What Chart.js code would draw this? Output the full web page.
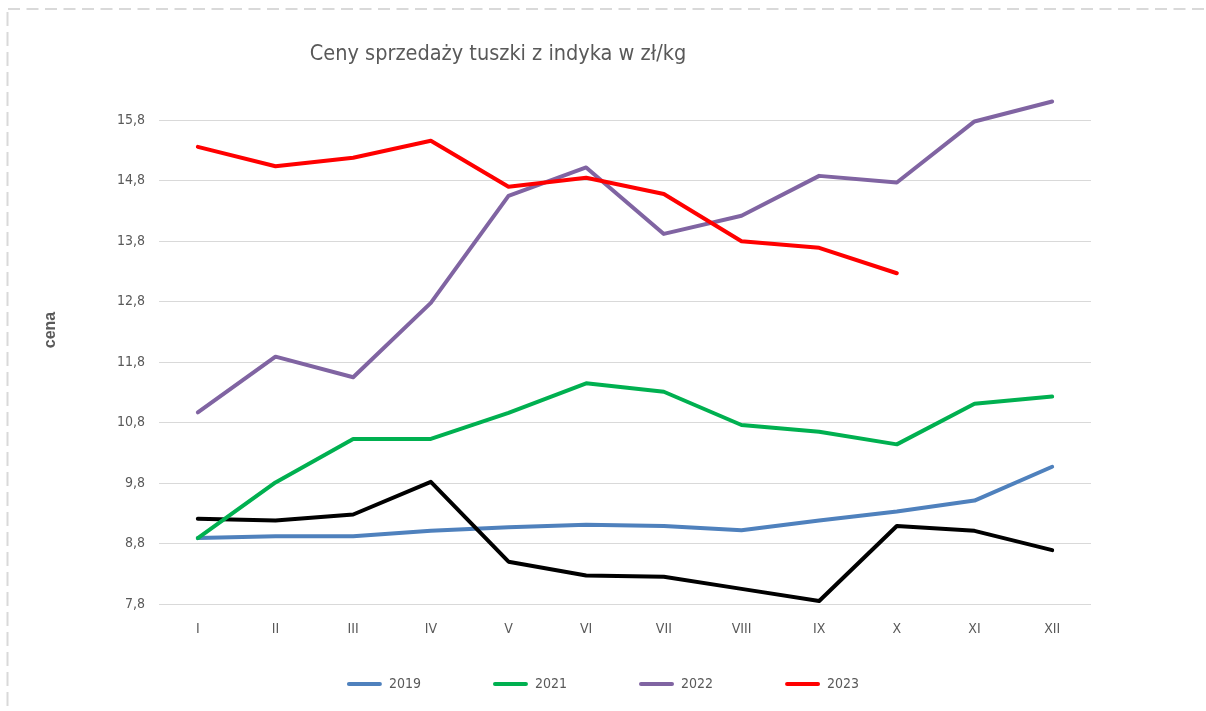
<!DOCTYPE html>
<html lang="pl">
<head>
<meta charset="utf-8">
<title>Ceny sprzedaży tuszki z indyka w zł/kg</title>
<script src="https://cdn.jsdelivr.net/npm/chart.js@4.4.1/dist/chart.umd.min.js"></script>
<style>
    html, body { margin: 0; padding: 0; background: #ffffff; }
    #kontener { position: relative; width: 1206px; height: 711px; }
</style>
</head>
<body>
<div id="kontener"><canvas id="wykresCen"></canvas></div>
<script>
// dane (zł/kg)
const miesiace = ["I", "II", "III", "IV", "V", "VI", "VII", "VIII", "IX", "X", "XI", "XII"];
const ceny2019 = [8.89, 8.92, 8.92, 9.01, 9.07, 9.11, 9.09, 9.02, 9.18, 9.33, 9.51, 10.07];
const ceny2020 = [9.21, 9.18, 9.28, 9.82, 8.50, 8.27, 8.25, 8.05, 7.85, 9.09, 9.01, 8.69];
const ceny2021 = [8.89, 9.81, 10.53, 10.53, 10.96, 11.45, 11.31, 10.76, 10.65, 10.44, 11.11, 11.23];
const ceny2022 = [10.97, 11.89, 11.55, 12.78, 14.55, 15.02, 13.92, 14.22, 14.88, 14.77, 15.78, 16.11];
const ceny2023 = [15.36, 15.04, 15.18, 15.46, 14.70, 14.85, 14.58, 13.80, 13.69, 13.27, null, null];
const podzialkaY = [7.8, 8.8, 9.8, 10.8, 11.8, 12.8, 13.8, 14.8, 15.8];
const zakresY = [7.8, 16.3];

const KOLOR_TEKSTU = "#595959";
const FONT_WASKI = "'DejaVu Sans Condensed', 'Liberation Sans', sans-serif";

// ramka przerywana, tytuł i opis osi
const dekoracje = {
    id: "dekoracje",
    beforeDraw(chart) {
        const ctx = chart.ctx;
        ctx.save();
        ctx.strokeStyle = "#d9d9d9";
        ctx.lineWidth = 2;
        ctx.setLineDash([12, 6.5]);
        ctx.beginPath();
        ctx.moveTo(8, 9);
        ctx.lineTo(chart.width, 9);
        ctx.stroke();
        ctx.setLineDash([14, 6]);
        ctx.beginPath();
        ctx.moveTo(7.5, 12);
        ctx.lineTo(7.5, chart.height);
        ctx.stroke();
        ctx.setLineDash([]);

        ctx.fillStyle = KOLOR_TEKSTU;
        ctx.textAlign = "center";
        ctx.textBaseline = "alphabetic";
        ctx.font = "21.5px " + FONT_WASKI;
        ctx.fillText("Ceny sprzedaży tuszki z indyka w zł/kg", 498, 60);

        ctx.translate(51, 330);
        ctx.rotate(-Math.PI / 2);
        ctx.textBaseline = "middle";
        ctx.font = "bold 16px 'Liberation Sans', sans-serif";
        ctx.fillText("cena", 0, 0);
        ctx.restore();
    }
};

function seria(etykieta, dane, kolor, kolejnosc) {
    return {
        label: etykieta,
        data: dane,
        borderColor: kolor,
        backgroundColor: kolor,
        borderWidth: 4,
        borderJoinStyle: "round",
        borderCapStyle: "round",
        pointRadius: 0,
        pointHoverRadius: 0,
        tension: 0,
        order: kolejnosc
    };
}

new Chart(document.getElementById("wykresCen"), {
    type: "line",
    data: {
        labels: miesiace,
        datasets: [
            seria("2019", ceny2019, "#4f81bd", 5),
            seria("2020", ceny2020, "#000000", 4),
            seria("2021", ceny2021, "#00b050", 3),
            seria("2022", ceny2022, "#8064a2", 2),
            seria("2023", ceny2023, "#ff0000", 1)
        ]
    },
    options: {
        responsive: true,
        maintainAspectRatio: false,
        animation: false,
        layout: { padding: { top: 90, left: 0, right: 0, bottom: 10 } },
        scales: {
            x: {
                offset: true,
                grid: { display: false, drawTicks: false },
                border: { display: false },
                ticks: {
                    padding: 17,
                    autoSkip: false,
                    maxRotation: 0,
                    color: KOLOR_TEKSTU,
                    font: { family: FONT_WASKI, size: 14 }
                },
                afterFit: s => {
                    // oś ma niemal zerową wysokość (legenda zajmuje dół), więc bez przycinania etykiet
                    s.height = 1;
                    s._computeLabelArea = () => null;
                }
            },
            y: {
                min: zakresY[0],
                max: zakresY[1],
                afterBuildTicks: s => { s.ticks = podzialkaY.map(v => ({ value: v })); },
                afterFit: s => { s.width = 159; },
                grid: { color: "#d9d9d9", lineWidth: 1, drawTicks: false },
                border: { display: false },
                ticks: {
                    padding: 14,
                    color: KOLOR_TEKSTU,
                    font: { family: FONT_WASKI, size: 14 },
                    callback: v => v.toFixed(1).replace(".", ",")
                }
            },
            prawa: {
                type: "linear",
                position: "right",
                grid: { display: false },
                border: { display: false },
                ticks: { display: false },
                afterFit: s => { s.width = 115; }
            }
        },
        plugins: {
            legend: {
                position: "bottom",
                labels: {
                    boxWidth: 35,
                    boxHeight: 4,
                    useBorderRadius: true,
                    borderRadius: 2,
                    padding: 72,
                    color: KOLOR_TEKSTU,
                    font: { family: FONT_WASKI, size: 14 },
                    filter: item => item.text !== "2020",
                    sort: (a, b) => a.datasetIndex - b.datasetIndex,
                    generateLabels: chart => Chart.defaults.plugins.legend.labels.generateLabels(chart)
                        .map(l => Object.assign(l, { lineWidth: 0, fillStyle: l.strokeStyle }))
                }
            },
            tooltip: { enabled: false }
        }
    },
    plugins: [dekoracje]
});
</script>
</body>
</html>
